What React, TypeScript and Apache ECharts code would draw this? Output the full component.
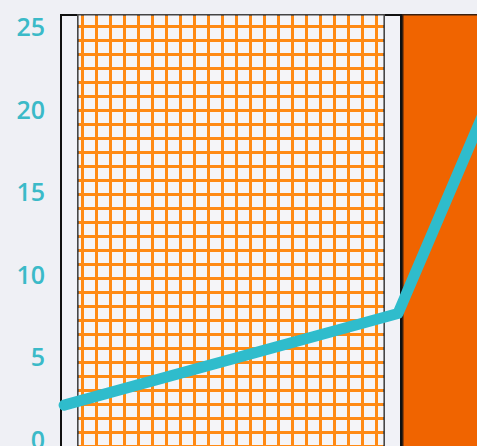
import React, { useEffect, useRef } from "react";
import * as echarts from "echarts";

const categories = ["A", "B", "C"];
const barBase = [-5, -5, -5];
const outerValues = [30.75, 30.75, 30.75];
const innerBase: (number | string)[] = [-5, "-", "-"];
const innerValues: (number | string)[] = [30.75, "-", "-"];
const linePoints: [number, number][] = [
  [0.012, 2.05],
  [0.988, 7.6],
  [1.287, 22.1],
];
const yTicks = { min: -5, max: 25.75, interval: 5 };

export default function App() {
  const ref = useRef<HTMLDivElement>(null);
  useEffect(() => {
    const chart = echarts.init(ref.current!, undefined, { renderer: "svg" });
    chart.setOption({
      animation: false,
      backgroundColor: "#eff0f5",
      grid: { left: 60, top: 14, bottom: -75.5, right: -609, outerBoundsMode: "none" },
      xAxis: [
        { type: "category", data: categories, show: false },
        { type: "category", data: categories, show: false },
        { type: "value", min: 0, max: 3, show: false },
      ],
      yAxis: {
        type: "value",
        min: yTicks.min,
        max: yTicks.max,
        interval: yTicks.interval,
        axisLine: { show: false },
        axisTick: { show: false },
        splitLine: { show: false },
        axisLabel: {
          showMaxLabel: false,
          showMinLabel: false,
          color: "#3bbac8",
          fontSize: 25,
          fontWeight: 600,
          fontFamily: "Open Sans",
          margin: 15,
        },
      },
      series: [
        {
          type: "bar",
          xAxisIndex: 0,
          stack: "outer",
          stackStrategy: "all",
          barWidth: "100%",
          data: barBase,
          itemStyle: { color: "rgba(0,0,0,0)", borderWidth: 0 },
          z: 1,
        },
        {
          type: "bar",
          xAxisIndex: 0,
          stack: "outer",
          stackStrategy: "all",
          barWidth: "100%",
          data: outerValues.map((v, i) => ({
            value: v,
            itemStyle:
              i === 0
                ? { color: "#f1f2f7", borderColor: "#111", borderWidth: 2 }
                : { color: "#f06400", borderColor: "#3a2010", borderWidth: 1.5 },
          })),
          z: 1,
        },
        {
          type: "bar",
          xAxisIndex: 1,
          stack: "inner",
          stackStrategy: "all",
          barWidth: "90%",
          data: innerBase,
          itemStyle: { color: "rgba(0,0,0,0)", borderWidth: 0 },
          z: 2,
        },
        {
          type: "bar",
          xAxisIndex: 1,
          stack: "inner",
          stackStrategy: "all",
          barWidth: "90%",
          data: innerValues,
          itemStyle: {
            color: "#ff8a14",
            borderColor: "#444",
            borderWidth: 1.5,
            decal: {
              symbol: "rect",
              symbolSize: 1,
              dashArrayX: [11, 3],
              dashArrayY: [11, 3],
              color: "#f5f5f8",
              rotation: 0,
            },
          },
          z: 2,
        },
        {
          type: "line",
          xAxisIndex: 2,
          data: linePoints,
          showSymbol: false,
          lineStyle: { color: "#2fbccc", width: 11, cap: "round", join: "round" },
          z: 3,
        },
      ],
    });
    return () => chart.dispose();
  }, []);
  return (
    <div
      ref={ref}
      style={{ position: "fixed", left: 0, top: 0, width: 477, height: 446 }}
    />
  );
}
